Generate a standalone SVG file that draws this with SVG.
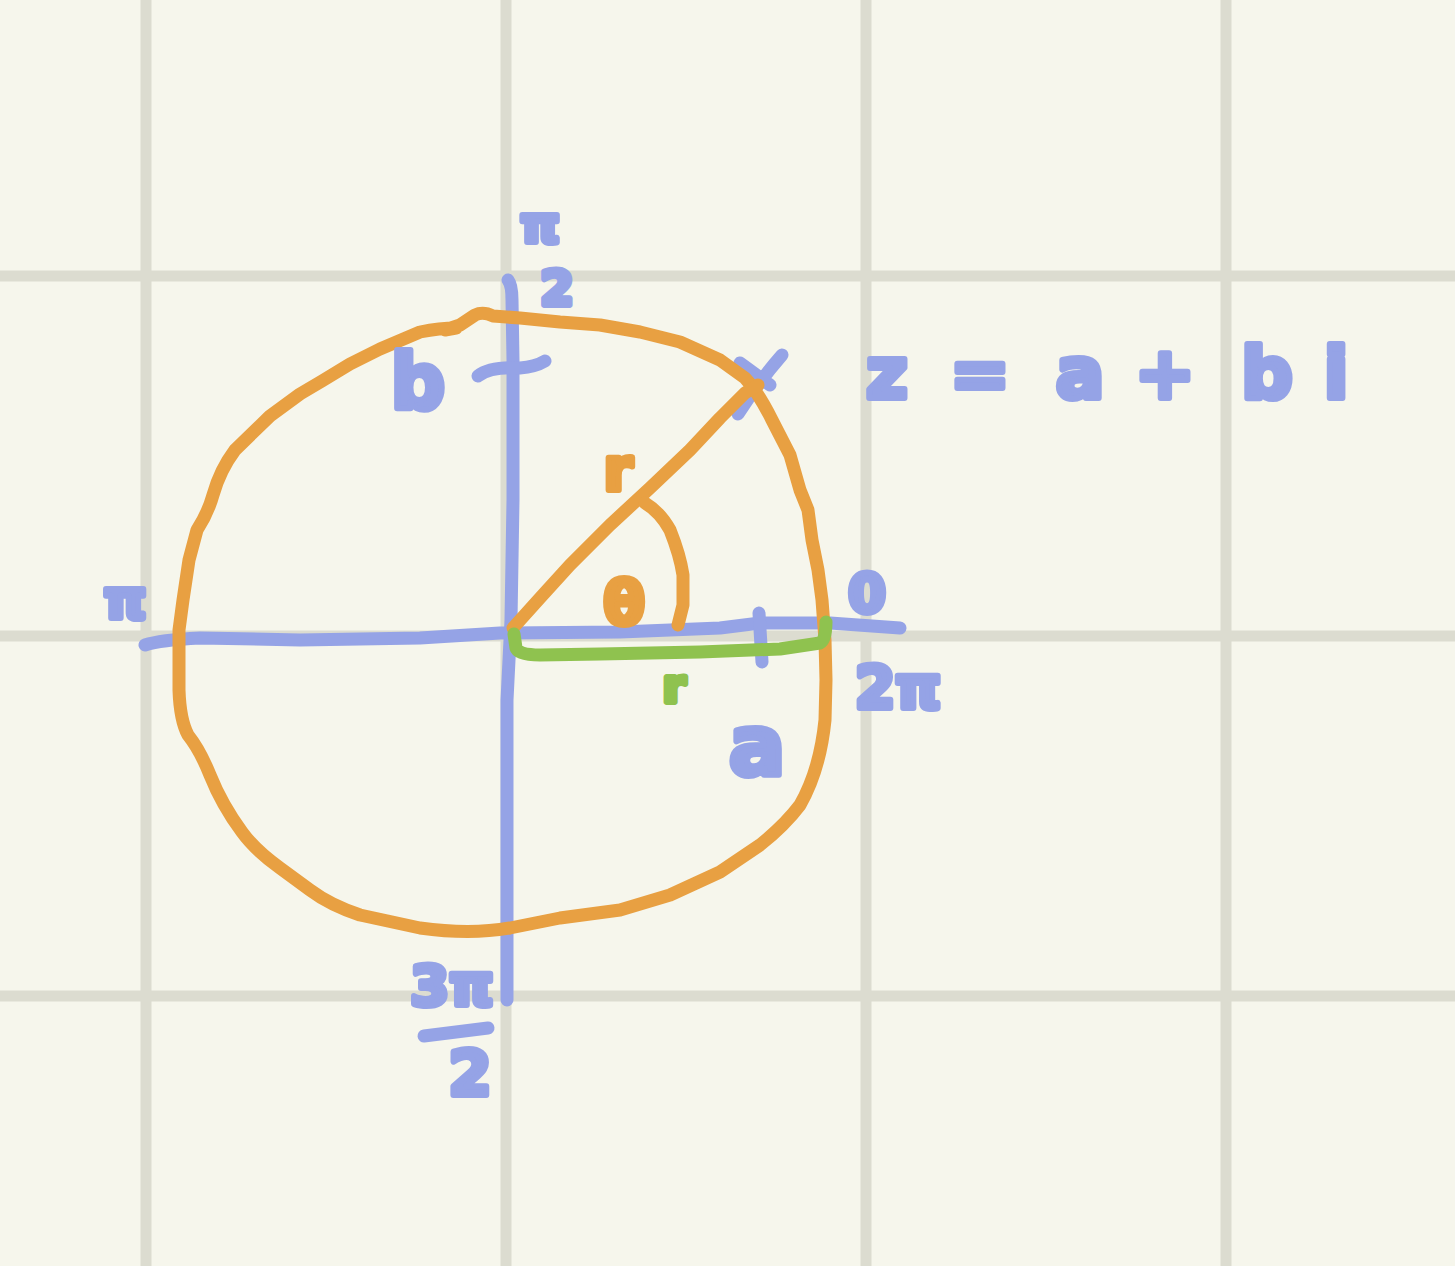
<svg xmlns="http://www.w3.org/2000/svg" width="1455" height="1266" viewBox="0 0 1455 1266">
<style>
.grid{stroke:#dcdcd0;stroke-width:11;fill:none}
.pen{fill:none;stroke-linecap:round;stroke-linejoin:round;stroke-width:13}
.blue{stroke:#95a3e6}
.orange{stroke:#e8a042}
.green{stroke:#8fc24f}
.lbl{font-family:"DejaVu Sans",sans-serif;font-weight:bold;stroke-linejoin:round;stroke-width:6}
.lb{fill:#95a3e6;stroke:#95a3e6}
.lo{fill:#e8a042;stroke:#e8a042}
.lg{fill:#8fc24f;stroke:#8fc24f}
</style>
<rect width="1455" height="1266" fill="#f6f6ec"/>
<g id="grid">
<line class="grid" x1="146" y1="0" x2="146" y2="1266"/>
<line class="grid" x1="506" y1="0" x2="506" y2="1266"/>
<line class="grid" x1="866" y1="0" x2="866" y2="1266"/>
<line class="grid" x1="1226" y1="0" x2="1226" y2="1266"/>
<line class="grid" x1="0" y1="276" x2="1455" y2="276"/>
<line class="grid" x1="0" y1="636" x2="1455" y2="636"/>
<line class="grid" x1="0" y1="996" x2="1455" y2="996"/>
</g>
<g id="axes">
<path class="pen blue" d="M508,280 Q512,285 512,300 L513,360 L513,500 L511,620 L507,700 L507,1000"/>
<path class="pen blue" d="M145,645 Q160,640 200,638 L300,640 L420,638 L500,633 L620,632 L720,628 L760,623 L830,623 L900,628"/>
<path class="pen blue" d="M478,376 Q490,366 520,368 Q535,367 545,361"/>
<path class="pen blue" d="M759,613 L762,662"/>
<path class="pen blue" d="M740,363 L770,385 M782,355 Q760,380 738,414"/>
</g>
<g id="circle">
<path class="pen orange" d="M445,330 L460,325 L475,315 Q483,311 493,316 L520,318 L560,322 L600,325 L640,332 L680,342 L720,360 L745,378 Q758,392 772,420 L790,455 L800,490 L808,510 L812,540 L818,570 L822,600 L825,640 L826,680 L825,720 Q820,770 800,805 Q785,825 760,845 L720,872 L670,895 L620,910 L560,918 L510,928 Q470,935 420,928 L360,915 Q330,905 310,890 L280,868 Q255,850 242,832 Q222,805 210,775 Q200,750 188,735 Q180,720 179,690 L179,630 L183,600 L189,560 L197,530 Q208,513 213,495 Q220,470 235,450 L270,416 L300,394 L322,381 L350,364 L380,349 L420,332 Q440,328 456,328 L445,330"/>
<path class="pen orange" d="M513,628 L540,598 L570,565 L610,525 L650,488 L690,450 L720,418 L745,393 L758,385"/>
<path class="pen orange" d="M645,503 Q660,512 670,530 Q680,555 683,575 L683,605 L678,625"/>
</g>
<g id="radius-bracket">
<path class="pen green" d="M514,634 L516,648 Q518,655 540,655 L600,654 L700,652 L780,649 L820,643 Q826,640 826,622"/>
</g>
<g id="labels">
<text class="lbl lb" x="540" y="242" font-size="50" text-anchor="middle">π</text>
<text class="lbl lb" x="557" y="305" font-size="48" text-anchor="middle">2</text>
<text class="lbl lb" x="418" y="408" font-size="76" text-anchor="middle">b</text>
<text class="lbl lb" font-size="72" y="398" x="887 980 1080 1165 1267 1336" text-anchor="middle">z=a+bi</text>
<text class="lbl lo" x="618" y="490" font-size="58" text-anchor="middle">r</text>
<text class="lbl lo" x="624" y="624" font-size="60" text-anchor="middle">θ</text>
<text class="lbl lg" x="674" y="702" font-size="46" text-anchor="middle">r</text>
<text class="lbl lb" x="125" y="618" font-size="54" text-anchor="middle">π</text>
<text class="lbl lb" x="867" y="612" font-size="54" text-anchor="middle">0</text>
<text class="lbl lb" x="898" y="708" font-size="58" text-anchor="middle">2π</text>
<text class="lbl lb" x="757" y="775" font-size="84" text-anchor="middle">a</text>
<text class="lbl lb" x="452" y="1005" font-size="56" text-anchor="middle">3π</text>
<path class="pen blue" d="M424,1036 L488,1028"/>
<text class="lbl lb" x="470" y="1095" font-size="62" text-anchor="middle">2</text>
</g>
</svg>
